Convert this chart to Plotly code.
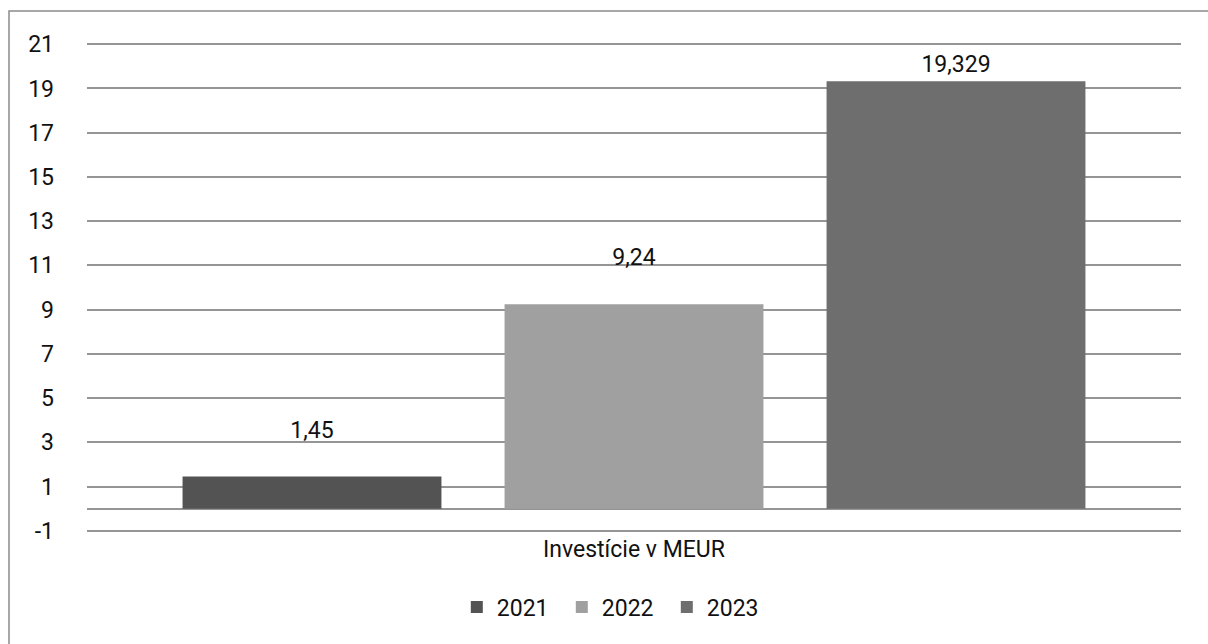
import plotly.graph_objects as go

categories = ["Investície v MEUR"]
series_names = ["2021", "2022", "2023"]
values_2021 = [1.45]
values_2022 = [9.24]
values_2023 = [19.329]
series_values = [values_2021, values_2022, values_2023]
series_colors = ["#535353", "#a0a0a0", "#6e6e6e"]
y_tickvals = [-1, 1, 3, 5, 7, 9, 11, 13, 15, 17, 19, 21]
y_ticktext = ["-1", "1", "3", "5", "7", "9", "11", "13", "15", "17", "19", "21"]

FONT = "Roboto, Arial, sans-serif"
FS = 23

def fmt(v):
    return str(v).replace(".", ",")

fig = go.Figure()
for name, vals, col in zip(series_names, series_values, series_colors):
    labels = [fmt(v) + ("<br> " if v < 15 else "") for v in vals]
    fig.add_trace(go.Bar(
        name=name,
        x=categories,
        y=vals,
        marker=dict(color=col, line=dict(width=0)),
        text=labels,
        textposition="outside",
        textfont=dict(size=FS, color="#111111", family=FONT),
        cliponaxis=False,
    ))

T, B = 42, 111
PH = 644 - T - B

fig.update_layout(
    width=1208, height=644,
    margin=dict(l=87, r=27, t=T, b=B),
    paper_bgcolor="white", plot_bgcolor="white",
    barmode="group", bargap=0.117, bargroupgap=0.196,
    font=dict(family=FONT, size=FS, color="#111111"),
    showlegend=True,
    legend=dict(orientation="h", x=0.482, xanchor="center", y=(644 - B - 607) / PH, yanchor="middle",
                font=dict(size=FS), itemwidth=30, entrywidth=60, entrywidthmode="pixels",
                traceorder="normal"),
    xaxis=dict(showgrid=False, showline=False, ticks="", tickfont=dict(size=FS)),
    yaxis=dict(range=[-1.1, 21.1], tickvals=y_tickvals, ticktext=y_ticktext,
               showgrid=True, gridcolor="#959595",
               gridwidth=1.5, zeroline=True, zerolinecolor="#959595", zerolinewidth=1.5,
               showline=False, ticks="", ticklabelstandoff=32, tickfont=dict(size=FS)),
    shapes=[dict(type="rect", xref="paper", yref="paper",
                 x0=(9 - 87) / 1094, x1=1.2, y0=-0.5, y1=(644 - B - 11) / PH,
                 line=dict(color="#8a8a8a", width=1.5), fillcolor="rgba(0,0,0,0)", layer="below")],
)

fig.write_html("out.html", config={"displayModeBar": False},
               post_script="document.body.style.margin='0';")
